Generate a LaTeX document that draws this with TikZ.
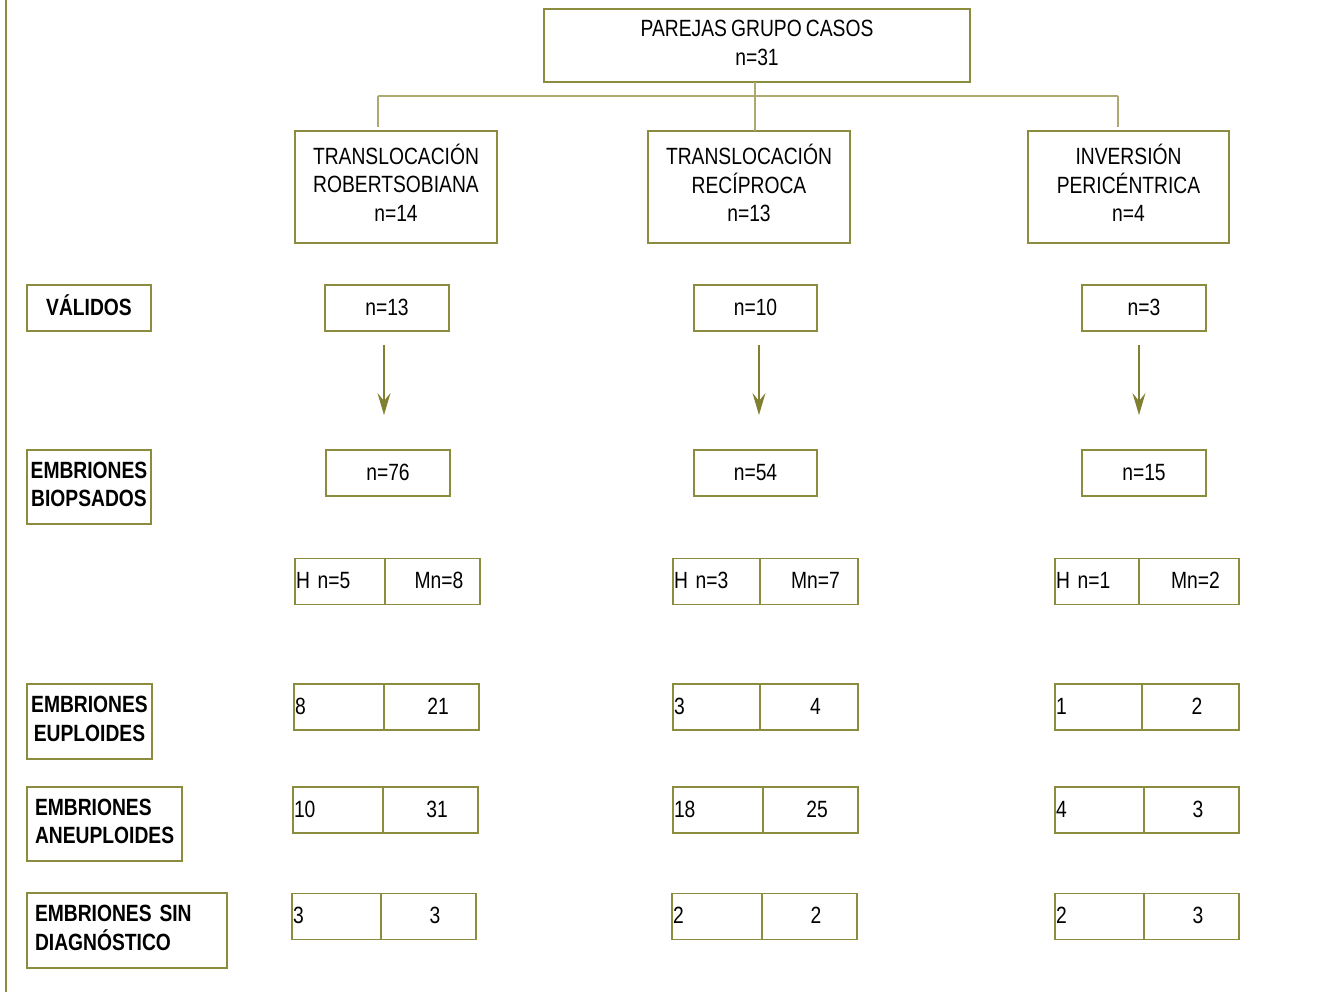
\documentclass[tikz,border=0pt]{standalone}
\usepackage{fontspec}
\setmainfont{Liberation Sans}[FakeStretch=0.82,WordSpace=0.78]
\usetikzlibrary{arrows.meta}
\definecolor{boxc}{RGB}{140,140,62}
\definecolor{connc}{RGB}{172,170,112}
\definecolor{arrc}{RGB}{128,128,48}
\newcommand{\mlines}[2]{\begin{tabular}{@{}#1@{}}#2\end{tabular}}
\newcommand{\splitrow}[7]{%
  \pgfmathsetmacro\twL{#3-#2-2}%
  \pgfmathsetmacro\wR{#4-#3}%
  \node[cell, text width=\twL pt, align=left, inner xsep=1pt, anchor=west] (#1L) at (#2,#5) {#6};
  \node[cell, minimum width=\wR pt, anchor=west] (#1R) at (#3,#5) {\hspace*{13pt}#7};
}
\begin{document}
\begin{tikzpicture}[x=1pt,y=-1pt,
  every node/.style={font=\fontsize{23.5}{28.5}\selectfont, outer sep=0pt},
  box/.style={draw=boxc, line width=1.5pt, align=center, inner sep=2pt},
  sl/.style={text height=17pt, text depth=2.5pt},
  lab/.style={box, font=\fontsize{23.5}{28.5}\selectfont\bfseries},
  cell/.style={draw=boxc, line width=1.5pt, minimum height=46pt, inner ysep=0pt, sl},
  conn/.style={draw=connc, line width=1.3pt},
  arr/.style={draw=arrc, line width=1.3pt, -{Stealth[length=22pt,width=13pt,inset=8pt,fill=arrc]}},
]
\useasboundingbox (0,0) rectangle (1318,992);
\fill[white] (0,0) rectangle (1318,992);
\coordinate (lt) at (6,0);
\coordinate (lb) at (6,992);
\draw[draw=boxc, line width=1.5pt] (lt) -- (lb);

% top
\node[box, minimum width=426pt, minimum height=73pt] (top) at (757,45.5) {\mlines{c}{PAREJAS GRUPO CASOS\\n=31}};
\node[box, minimum width=202pt, minimum height=112pt] (tl) at (396,187) {\mlines{c}{TRANSLOCACIÓN\\ROBERTSOBIANA\\n=14}};
\node[box, minimum width=202pt, minimum height=112pt] (tm) at (749,187) {\mlines{c}{TRANSLOCACIÓN\\RECÍPROCA\\n=13}};
\node[box, minimum width=201pt, minimum height=112pt] (tr) at (1128.5,187) {\mlines{c}{INVERSIÓN\\PERICÉNTRICA\\n=4}};

\coordinate (j) at (755,96);
\coordinate (tlx) at ([xshift=-18pt]tl.north);
\coordinate (trx) at ([xshift=-10.5pt]tr.north);
\draw[conn] (j |- top.south) -- (j);
\draw[conn] (tlx |- j) -- (trx |- j);
\draw[conn] (tlx |- j) -- ([yshift=4pt]tlx);
\draw[conn] (j) -- (j |- tm.north);
\draw[conn] (trx |- j) -- ([yshift=4pt]trx);

% left labels
\node[lab, sl, minimum width=124pt, minimum height=46pt] (lv) at (89,308) {VÁLIDOS};
\node[lab, minimum width=124pt, minimum height=74pt] (lbio) at (89,487) {\mlines{c}{EMBRIONES\\BIOPSADOS}};
\node[lab, minimum width=125pt, minimum height=75pt] (leu) at (89.5,721.5) {\mlines{c}{EMBRIONES\\EUPLOIDES}};
\node[lab, text width=139pt, align=left, inner xsep=8pt, minimum height=74pt] (lan) at (104.5,824) {\mlines{l}{EMBRIONES\\ANEUPLOIDES}};
\node[lab, text width=184pt, align=left, inner xsep=8pt, minimum height=75pt] (lsd) at (127,930.5) {\mlines{l}{EMBRIONES SIN\\DIAGNÓSTICO}};

% values
\node[box, sl, minimum width=124pt, minimum height=46pt] (v1) at (387,308) {n=13};
\node[box, sl, minimum width=124pt, minimum height=46pt] (b1) at (388,473) {n=76};
\node[box, sl, minimum width=123pt, minimum height=46pt] (v2) at (755.5,308) {n=10};
\node[box, sl, minimum width=123pt, minimum height=46pt] (b2) at (755.5,473) {n=54};
\node[box, sl, minimum width=124pt, minimum height=46pt] (v3) at (1144,308) {n=3};
\node[box, sl, minimum width=124pt, minimum height=46pt] (b3) at (1144,473) {n=15};

\draw[arr] ([xshift=-3pt,yshift=-14pt]v1.south) -- ([xshift=-4pt,yshift=35pt]b1.north);
\draw[arr] ([xshift=3.5pt,yshift=-14pt]v2.south) -- ([xshift=3.5pt,yshift=35pt]b2.north);
\draw[arr] ([xshift=-5pt,yshift=-14pt]v3.south) -- ([xshift=-5pt,yshift=35pt]b3.north);

% split rows
\splitrow{h1}{295}{385}{480}{581.5}{H n=5}{Mn=8}
\splitrow{h2}{673}{760}{858}{581.5}{H n=3}{Mn=7}
\splitrow{h3}{1055}{1139}{1239}{581.5}{H n=1}{Mn=2}

\splitrow{e1}{294}{384}{479}{707}{8}{21}
\splitrow{e2}{673}{760}{858}{707}{3}{4}
\splitrow{e3}{1055}{1142}{1239}{707}{1}{2}

\splitrow{a1}{293}{383}{478}{810}{10}{31}
\splitrow{a2}{673}{763}{858}{810}{18}{25}
\splitrow{a3}{1055}{1144}{1239}{810}{4}{3}

\splitrow{s1}{292}{381}{476}{916.5}{3}{3}
\splitrow{s2}{672}{762}{857}{916.5}{2}{2}
\splitrow{s3}{1055}{1144}{1239}{916.5}{2}{3}
\end{tikzpicture}
\end{document}
